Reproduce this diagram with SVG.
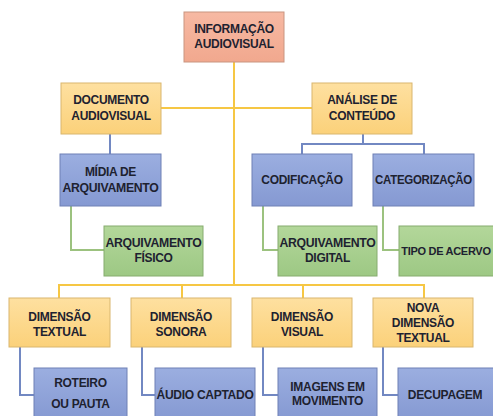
<svg xmlns="http://www.w3.org/2000/svg" width="493" height="416" viewBox="0 0 493 416">
<defs>
<linearGradient id="gR" x1="0" y1="0" x2="0" y2="1"><stop offset="0" stop-color="#F7B9A3"/><stop offset="1" stop-color="#F1A88E"/></linearGradient>
<linearGradient id="gY" x1="0" y1="0" x2="0" y2="1"><stop offset="0" stop-color="#FEE0A0"/><stop offset="1" stop-color="#FBD17A"/></linearGradient>
<linearGradient id="gB" x1="0" y1="0" x2="0" y2="1"><stop offset="0" stop-color="#9BAEE0"/><stop offset="1" stop-color="#8599D2"/></linearGradient>
<linearGradient id="gG" x1="0" y1="0" x2="0" y2="1"><stop offset="0" stop-color="#B3D79A"/><stop offset="1" stop-color="#9DC884"/></linearGradient>
</defs>
<style>
.r{fill:url(#gR);stroke:#C99580;stroke-width:1}
.y{fill:url(#gY);stroke:#D9B66E;stroke-width:1}
.b{fill:url(#gB);stroke:#6E80B5;stroke-width:1}
.g{fill:url(#gG);stroke:#86AC6F;stroke-width:1}
text{font-family:"Liberation Sans",Arial,sans-serif;font-weight:bold;font-size:12px;fill:#1E2230;text-anchor:middle;dominant-baseline:central;letter-spacing:-0.3px}
.ly{stroke:#F6C744;stroke-width:2;fill:none}
.lb{stroke:#7288C2;stroke-width:2;fill:none}
.lg{stroke:#9CC27F;stroke-width:2;fill:none}
</style>
<rect width="493" height="416" fill="#FFFFFF"/>
<g id="connectors">
<path class="ly" d="M234 62V285M161 108H312M59 298V285H424V298M182 285V298M303 285V298"/>
<path class="lb" d="M110 134V154M363 134V144M302 154V144H424V154"/>
<path class="lg" d="M71 206V250H104M263 206V250H278M383 206V250H399"/>
<path class="lb" d="M20 347V395H34M142 347V395H155M263 347V395H278M383 347V395H398"/>
</g>
<g id="n-informacao"><rect class="r" x="184" y="12" width="100" height="50"/><text x="234" y="29">INFORMAÇÃO</text><text x="234" y="44">AUDIOVISUAL</text></g>
<g id="n-documento"><rect class="y" x="61" y="83" width="100" height="51"/><text x="111" y="100">DOCUMENTO</text><text x="111" y="116">AUDIOVISUAL</text></g>
<g id="n-analise"><rect class="y" x="312" y="83" width="100" height="51"/><text x="362" y="100">ANÁLISE DE</text><text x="362" y="116">CONTEÚDO</text></g>
<g id="n-midia"><rect class="b" x="60" y="154" width="101" height="52"/><text x="110.5" y="172">MÍDIA DE</text><text x="110.5" y="188" textLength="96" lengthAdjust="spacingAndGlyphs">ARQUIVAMENTO</text></g>
<g id="n-codificacao"><rect class="b" x="252" y="154" width="100" height="52"/><text x="302" y="180">CODIFICAÇÃO</text></g>
<g id="n-categorizacao"><rect class="b" x="373" y="154" width="101" height="52"/><text x="423.5" y="180" textLength="97" lengthAdjust="spacingAndGlyphs">CATEGORIZAÇÃO</text></g>
<g id="n-arqfisico"><rect class="g" x="104" y="226" width="99" height="50"/><text x="153.5" y="243" textLength="96" lengthAdjust="spacingAndGlyphs">ARQUIVAMENTO</text><text x="153.5" y="258">FÍSICO</text></g>
<g id="n-arqdigital"><rect class="g" x="278" y="226" width="99" height="50"/><text x="327.5" y="243" textLength="96" lengthAdjust="spacingAndGlyphs">ARQUIVAMENTO</text><text x="327.5" y="258">DIGITAL</text></g>
<g id="n-tipo"><rect class="g" x="399" y="226" width="100" height="50"/><text x="446" y="251" style="font-size:11px">TIPO DE ACERVO</text></g>
<g id="n-textual"><rect class="y" x="9" y="298" width="101" height="49"/><text x="59.5" y="317">DIMENSÃO</text><text x="59.5" y="332">TEXTUAL</text></g>
<g id="n-sonora"><rect class="y" x="131" y="298" width="100" height="49"/><text x="181" y="317">DIMENSÃO</text><text x="181" y="332">SONORA</text></g>
<g id="n-visual"><rect class="y" x="252" y="298" width="100" height="49"/><text x="302" y="317">DIMENSÃO</text><text x="302" y="332">VISUAL</text></g>
<g id="n-nova"><rect class="y" x="373" y="298" width="100" height="49"/><text x="423" y="308">NOVA</text><text x="423" y="323">DIMENSÃO</text><text x="423" y="338">TEXTUAL</text></g>
<g id="n-roteiro"><rect class="b" x="34" y="368" width="93" height="52"/><text x="80.5" y="383">ROTEIRO</text><text x="80.5" y="404">OU PAUTA</text></g>
<g id="n-audio"><rect class="b" x="155" y="368" width="100" height="52"/><text x="205" y="395" textLength="97" lengthAdjust="spacingAndGlyphs">ÁUDIO CAPTADO</text></g>
<g id="n-imagens"><rect class="b" x="278" y="368" width="99" height="52"/><text x="327.5" y="387">IMAGENS EM</text><text x="327.5" y="401">MOVIMENTO</text></g>
<g id="n-decupagem"><rect class="b" x="398" y="368" width="100" height="52"/><text x="445" y="395">DECUPAGEM</text></g>
</svg>
